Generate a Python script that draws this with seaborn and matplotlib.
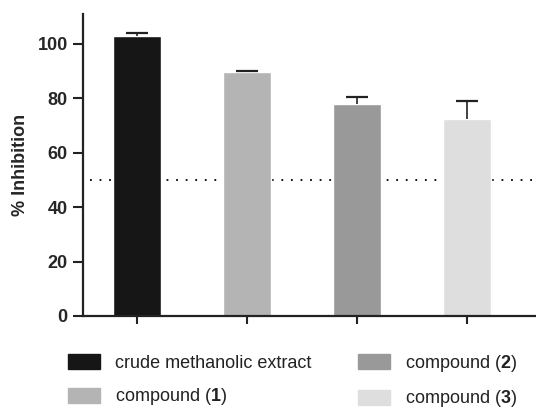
import numpy as np
import pandas as pd
import matplotlib
matplotlib.use("Agg")
import matplotlib.pyplot as plt
import seaborn as sns

# values
samples = ["crude methanolic extract", "compound (1)", "compound (2)", "compound (3)"]
legend_labels = ["crude methanolic extract", r"compound ($\mathbf{1}$)",
                 r"compound ($\mathbf{2}$)", r"compound ($\mathbf{3}$)"]
inhibition = [103.0, 89.5, 78.0, 72.3]
sem = [1.0, 0.4, 2.4, 6.8]
bar_colors = ["#161616", "#b4b4b4", "#999999", "#dedede"]
threshold = 50

sns.set_style("ticks")
plt.rcParams["font.family"] = ["Liberation Sans", "DejaVu Sans"]
plt.rcParams["mathtext.fontset"] = "custom"
plt.rcParams["mathtext.rm"] = "Liberation Sans"
plt.rcParams["mathtext.bf"] = "Liberation Sans:bold"

df = pd.DataFrame({"sample": samples, "inhibition": inhibition, "sem": sem})
df["top"] = df["inhibition"] + df["sem"]

fig = plt.figure(figsize=(5.36, 4.11), dpi=100)
ax = fig.add_axes([83 / 536, 1 - 316 / 411, 1 - 83 / 536, (316 - 14) / 411])

sns.barplot(data=df, x="sample", y="inhibition", hue="sample", palette=bar_colors,
            width=0.44, errorbar=None, legend=False, ax=ax, zorder=2)

# upper error bars only (GraphPad style)
x = np.arange(len(samples))
ax.errorbar(x, df["inhibition"], yerr=[np.zeros(len(sem)), df["sem"]], fmt="none",
            ecolor="#222222", elinewidth=1.2, capsize=0, zorder=3)
ax.plot(x, df["top"], ls="none", marker="_", markersize=16, mew=1.6,
        color="#222222", zorder=3)

ax.axhline(threshold, xmin=0.015, xmax=1, color="black", lw=1.3,
           ls=(0, (1, 4.3)), zorder=1)

ax.set_xlim(-0.49, 3.63)
ax.set_ylim(0, 111)
ax.set_yticks([0, 20, 40, 60, 80, 100])
ax.set_xticks(x)
ax.set_xticklabels([])
ax.set_xlabel("")
ax.set_ylabel("% Inhibition", fontsize=13, fontweight="bold", labelpad=6)

for lbl in ax.get_yticklabels():
    lbl.set_fontweight("bold")
ax.tick_params(axis="y", labelsize=13, width=1.5, length=7, pad=4, color="#222222")
ax.tick_params(axis="x", width=1.5, length=6, color="#222222")

sns.despine(ax=ax)
for s in ["left", "bottom"]:
    ax.spines[s].set_linewidth(1.6)
    ax.spines[s].set_color("#222222")

handles = [plt.Rectangle((0, 0), 1, 1, color=c) for c in bar_colors]
fig.legend(handles, legend_labels, loc="upper left", ncol=2,
           bbox_to_anchor=(68 / 536, 1 - 353 / 411), frameon=False,
           fontsize=13, handlelength=1.75, handleheight=0.9,
           handletextpad=0.85, columnspacing=2.6, labelspacing=0.8,
           borderpad=0, borderaxespad=0, labelcolor="#222222")

fig.savefig("out.png", dpi=100)
